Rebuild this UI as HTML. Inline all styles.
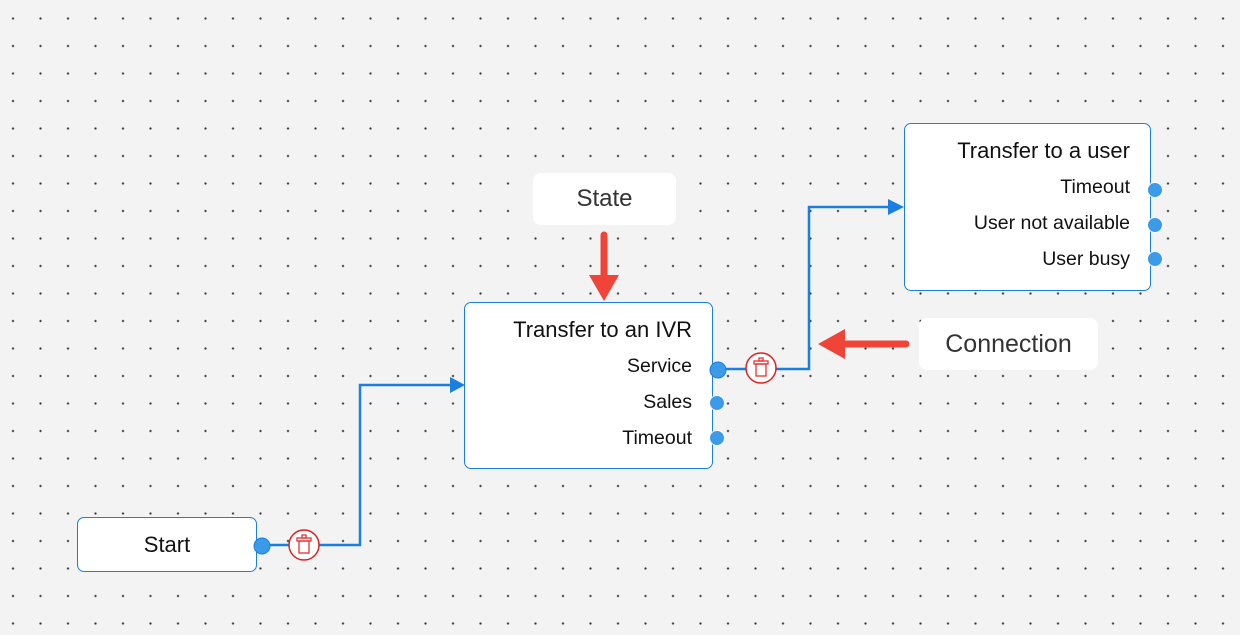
<!DOCTYPE html>
<html><head><meta charset="utf-8"><style>
body{margin:0;width:1240px;height:635px;overflow:hidden;background:#f3f3f3;font-family:"Liberation Sans",sans-serif;position:relative;
background-image:radial-gradient(circle,#333 0.9px,transparent 1.3px);background-size:27.5px 27.5px;background-position:-0.75px 4.75px}
.node{position:absolute;background:#fff;border:1px solid #1a7fe0;border-radius:7px;box-sizing:border-box;color:#111}
.t{position:absolute;right:20px;font-size:22px}
.i{position:absolute;right:20px;font-size:19.5px}
.lbl{position:absolute;background:#fff;border-radius:8px;color:#333;text-align:center}
svg{position:absolute;left:0;top:0}
</style></head><body>
<div class="lbl" style="left:533px;top:173px;width:143px;height:52px;line-height:52px;font-size:24px">State</div>
<div class="lbl" style="left:919px;top:318px;width:179px;height:52px;line-height:52px;font-size:25px">Connection</div>
<div class="node" style="left:77px;top:517px;width:180px;height:55px"><div style="text-align:center;line-height:54px;font-size:22px">Start</div></div>
<div class="node" style="left:464px;top:302px;width:249px;height:167px">
<div class="t" style="top:14px">Transfer to an IVR</div>
<div class="i" style="top:52px">Service</div>
<div class="i" style="top:88px">Sales</div>
<div class="i" style="top:124px">Timeout</div></div>
<div class="node" style="left:904px;top:123px;width:247px;height:168px">
<div class="t" style="top:14px">Transfer to a user</div>
<div class="i" style="top:52px">Timeout</div>
<div class="i" style="top:88px">User not available</div>
<div class="i" style="top:124px">User busy</div></div>
<svg width="1240" height="635">
<g fill="none" stroke="#1a7fe0" stroke-width="2.5">
<path d="M262 545 H360 V385 H452"/>
<path d="M718 369 H809 V207 H890"/>
</g>
<g fill="#1a7fe0"><path d="M450 377 L465 385 L450 393Z"/><path d="M888 199 L904 207 L888 215Z"/></g>
<g fill="#3b9be8" stroke="#fff" stroke-width="1">
<circle cx="262" cy="546" r="8" stroke="#1a7fe0"/>
<circle cx="718" cy="370" r="8" stroke="#1a7fe0"/>
<circle cx="717" cy="403" r="7.5"/><circle cx="717" cy="438" r="7.5"/>
<circle cx="1155" cy="190" r="7.5"/><circle cx="1155" cy="225" r="7.5"/><circle cx="1155" cy="259" r="7.5"/>
</g>
<g stroke="#e02020" stroke-width="1.5" fill="#fff">
<circle cx="304" cy="545" r="15"/><circle cx="761" cy="368" r="15"/>
</g>
<g stroke="#e83030" stroke-width="1.3" fill="none">
<rect x="297" y="538" width="14" height="3"/><rect x="299" y="541" width="10" height="12"/><rect x="302" y="535" width="4" height="3"/>
<rect x="754" y="361" width="14" height="3"/><rect x="756" y="364" width="10" height="12"/><rect x="759" y="358" width="4" height="3"/>
</g>
<g fill="#f04438" stroke="#f04438" stroke-linecap="round">
<line x1="604" y1="235" x2="604" y2="278" stroke-width="7"/>
<path d="M589 275 L619 275 L604 301Z" stroke="none"/>
<line x1="906" y1="344" x2="842" y2="344" stroke-width="7"/>
<path d="M845 329 L845 359 L818 344Z" stroke="none"/>
</g>
</svg>
</body></html>
